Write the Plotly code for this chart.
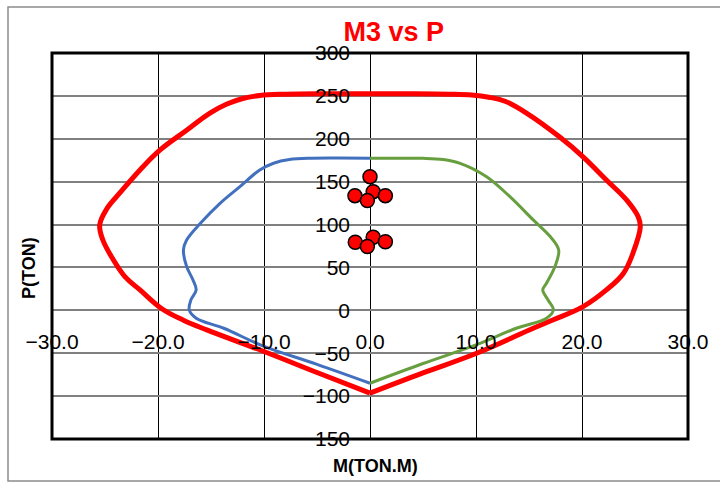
import plotly.graph_objects as go

# Nominal interaction diagram (red), left branch: bottom vertex -> top centre
nom_left_m = [0, -5, -10, -15.4, -17.6, -19.6, -21.7, -23.1, -24.2, -25.2, -25.5,
              -24.8, -23.6, -21.7, -19.8, -17.3, -15.1, -13.5, -12.0, -10.4, -8, -4, 0]
nom_left_p = [-96.6, -72.5, -48, -22.8, -11.5, 1.5, 23.8, 39, 58.7, 82, 99.5,
              119, 136.8, 163.6, 187, 210, 230, 240.5, 247, 250.5, 252, 252.5, 252.5]

# Nominal interaction diagram (red), right branch: top centre -> bottom vertex
nom_right_m = [0, 4, 7.5, 9.6, 11.2, 12.8, 14.8, 17.9, 20.1, 22.3, 24.2, 25.3, 25.5,
               24.8, 23.9, 22.3, 20.1, 17.3, 15.4, 10.06, 5, 0]
nom_right_p = [252.5, 252.5, 252, 251, 248.5, 243.5, 229.7, 202, 179, 152, 128.7, 109, 97.5,
               66.5, 43, 23.8, 4.3, -11, -20.9, -50, -73, -96.6]

# Design diagram, negative moments (blue)
des_neg_m = [0, -5, -10, -13.8, -16.4, -17.05, -16.9, -16.4, -16.7, -17.3, -17.6,
             -17.3, -16, -14.15, -12.3, -10.4, -9.1, -7.6, -5.5, -3, 0]
des_neg_p = [-85, -63, -42, -20.9, -9.2, 0.5, 12.1, 23.8, 35.4, 51, 70.4,
             82, 101.5, 124.8, 144, 163.6, 171.5, 175.8, 177.3, 177.5, 177.3]

# Design diagram, positive moments (green)
des_pos_m = [0, 5, 10, 13.8, 16.65, 17.3, 16.8, 16.3, 16.65, 17.45, 17.8,
             17, 15.4, 13.2, 11, 8.5, 6.9, 5, 2.5, 0]
des_pos_p = [-85, -62, -40.3, -20.9, -9.2, 0.5, 12.1, 23.8, 31.6, 51, 70.4,
             86, 105.4, 132.5, 155.8, 171.4, 175.8, 177.2, 177.3, 177.3]

# Load combinations (Mu, Pu)
load_m = [-1.42, 0.3, -0.25, 1.45, 0.0, -1.39, 0.3, -0.25, 1.45]
load_p = [133.7, 138.3, 127.9, 133.7, 155.8, 79.4, 85.2, 74.4, 80.0]

x_ticks = [-30, -20, -10, 0, 10, 20, 30]
y_ticks = [-150, -100, -50, 0, 50, 100, 150, 200, 250, 300]

FONT = "Liberation Sans, Arial, sans-serif"

fig = go.Figure()

for m, p in [(nom_left_m, nom_left_p), (nom_right_m, nom_right_p)]:
    fig.add_trace(go.Scatter(x=m, y=p, mode="lines",
                             line=dict(color="#FF0000", width=5, shape="spline", smoothing=1.1),
                             showlegend=False, hoverinfo="skip"))

fig.add_trace(go.Scatter(x=des_neg_m, y=des_neg_p, mode="lines",
                         line=dict(color="#4270BF", width=3, shape="spline", smoothing=1.0),
                         showlegend=False, hoverinfo="skip"))
fig.add_trace(go.Scatter(x=des_pos_m, y=des_pos_p, mode="lines",
                         line=dict(color="#679E3E", width=3, shape="spline", smoothing=1.0),
                         showlegend=False, hoverinfo="skip"))

fig.add_trace(go.Scatter(x=load_m, y=load_p, mode="markers",
                         marker=dict(color="#FF0000", size=14,
                                     line=dict(color="#000000", width=1.5)),
                         showlegend=False, hoverinfo="skip"))

# paper-coordinate position of the zero lines
x_zero_paper = (0 - (-30)) / 60
y_zero_paper = (0 - (-150)) / 450

fig.update_layout(
    width=720, height=483,
    margin=dict(l=52, r=32, t=53, b=44),
    paper_bgcolor="white", plot_bgcolor="white",
    font=dict(family=FONT, color="black"),
    title=dict(text="<b>M3 vs P</b>", x=0.547, xanchor="center",
               y=1 - 32 / 483, yanchor="middle",
               font=dict(family=FONT, size=27, color="#FF0000")),
    xaxis=dict(range=[-30, 30], tickvals=x_ticks, tickformat=".1f",
               showgrid=True, gridcolor="#000000", gridwidth=1,
               zeroline=False, showline=False, ticks="",
               anchor="free", position=y_zero_paper,
               ticklabelstandoff=17,
               tickfont=dict(family=FONT, size=21, color="black")),
    yaxis=dict(range=[-150, 300], tickvals=y_ticks,
               showgrid=True, gridcolor="#808080", gridwidth=2,
               zeroline=False, showline=False, ticks="",
               anchor="free", position=x_zero_paper,
               ticklabelstandoff=20,
               tickfont=dict(family=FONT, size=21, color="black")),
    shapes=[
        # outer chart frame
        dict(type="rect", xref="paper", yref="paper",
             x0=(8 - 52) / 636, x1=(723 - 52) / 636,
             y0=(439 - 481) / 386, y1=(439 - 7) / 386,
             line=dict(color="#8c8c8c", width=1.5), layer="below"),
        # plot area border
        dict(type="rect", xref="paper", yref="paper", x0=0, x1=1, y0=0, y1=1,
             line=dict(color="#000000", width=3), layer="above"),
    ],
    annotations=[
        dict(text="<b>M(TON.M)</b>", xref="paper", yref="paper",
             x=(375 - 52) / 636, y=(439 - 466) / 386,
             xanchor="center", yanchor="middle", showarrow=False,
             font=dict(family=FONT, size=18, color="black")),
        dict(text="<b>P(TON)</b>", xref="paper", yref="paper",
             x=(29 - 52) / 636, y=(439 - 268) / 386, textangle=-90,
             xanchor="center", yanchor="middle", showarrow=False,
             font=dict(family=FONT, size=18, color="black")),
    ],
)

fig.write_html("out.html")
